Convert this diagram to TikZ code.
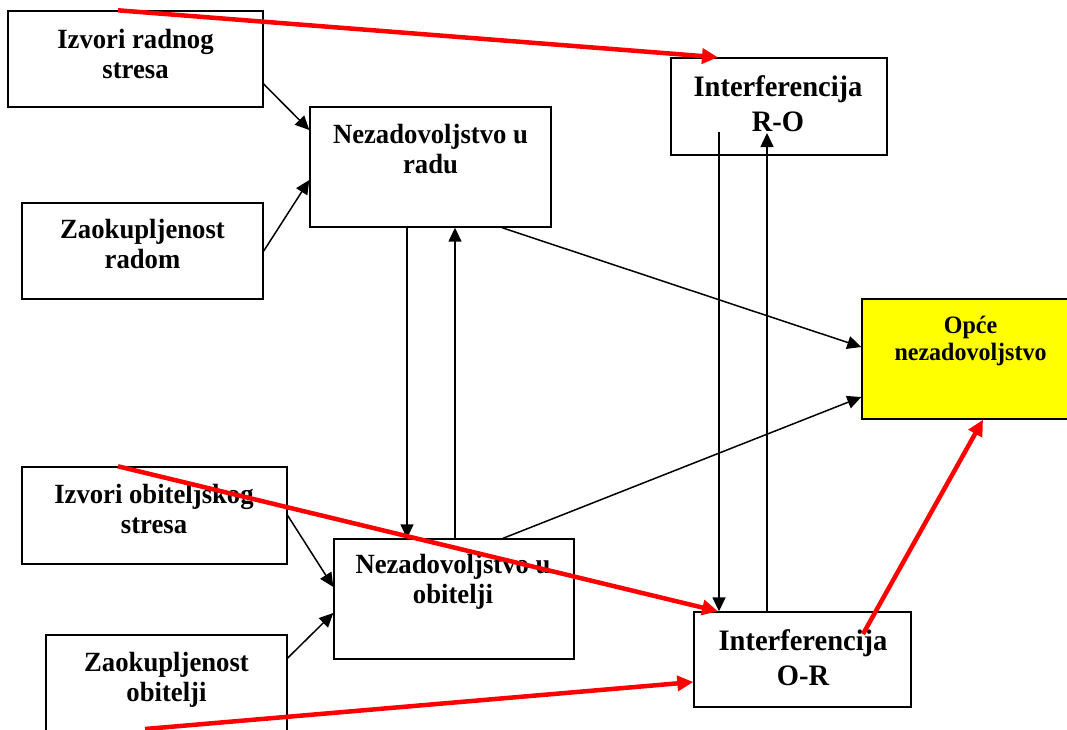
\documentclass[tikz,border=0pt]{standalone}
\usepackage{fontspec}
\setmainfont[FakeStretch=0.96]{Liberation Serif}
\usetikzlibrary{arrows.meta}
\definecolor{boxyellow}{RGB}{255,255,0}
\definecolor{arrred}{RGB}{255,0,0}
\begin{document}
\begin{tikzpicture}[x=1pt,y=-1pt,
  box/.style={draw=black, line width=1.4pt, fill=white, inner sep=0pt, rectangle},
  lbl/.style={inner sep=0pt, anchor=north, align=center, font=\fontsize{27.8}{30}\selectfont\bfseries},
  lblbig/.style={inner sep=0pt, anchor=north, align=center, font=\fontsize{29.7}{34.5}\selectfont\bfseries},
  lblsmall/.style={inner sep=0pt, anchor=north, align=center, font=\fontsize{25}{27}\selectfont\bfseries},
  blk/.style={draw=black, line width=1.5pt, -{Triangle[length=14pt,width=13pt]}},
  redarr/.style={draw=arrred, line width=4.5pt, -{Triangle[length=16pt,width=15pt]}}]
\path[use as bounding box] (0,0) rectangle (1067,729);
\clip (0,0) rectangle (1067,729);

% boxes
\node[box, minimum width=255pt, minimum height=96pt] (b1) at (135.5,59) {};
\node[box, minimum width=241pt, minimum height=96pt] (b2) at (142.5,251) {};
\node[box, minimum width=241pt, minimum height=120pt] (b3) at (430.5,167) {};
\node[box, minimum width=216pt, minimum height=97pt] (ro) at (779,106.5) {};
\node[box, fill=boxyellow, minimum width=217pt, minimum height=120pt] (op) at (970.5,359) {};
\node[box, minimum width=265pt, minimum height=97pt] (b6) at (154.5,515.5) {};
\node[box, minimum width=240pt, minimum height=120pt] (b7) at (454,599) {};
\node[box, minimum width=241pt, minimum height=96pt] (b8) at (166.5,683) {};
\node[box, minimum width=217pt, minimum height=95pt] (or) at (802.5,659.5) {};

% labels
\node[lbl] (t1) at (135.5,29.1) {Izvori radnog\\stresa};
\node[lbl] (t2) at (142.5,219.1) {Zaokupljenost\\radom};
\node[lbl] (t3) at (430.5,123.7) {Nezadovoljstvo u\\radu};
\node[lblbig] (tro) at (778,75.5) {Interferencija\\R-O};
\node[lblsmall] (top) at (970.5,315.5) {Opće\\nezadovoljstvo};
\node[lbl] (t6) at (154,484.1) {Izvori obiteljskog\\stresa};
\node[lbl] (t7) at (453,553.7) {Nezadovoljstvo u\\obitelji};
\node[lbl] (t8) at (166.5,652.1) {Zaokupljenost\\obitelji};
\node[lblbig] (tor) at (803,629.5) {Interferencija\\O-R};

% black connectors
\draw[blk] ([yshift=-25pt]b1.east) -- ([yshift=37pt]b3.west);
\draw[blk] (b2.east) -- ([yshift=-13pt]b3.west);
\draw[blk] ([xshift=-23.5pt]b3.south) -- ([xshift=-47pt]b7.north);
\draw[blk] ([xshift=1pt]b7.north) -- ([xshift=24.5pt]b3.south);
\draw[blk] ([xshift=71.5pt]b3.south) -- ([yshift=12pt]op.west);
\draw[blk] ([xshift=49pt]b7.north) -- ([yshift=-38pt]op.west);
\draw[blk] (b6.east) -- ([yshift=12pt]b7.west);
\draw[blk] ([yshift=25pt]b8.east) -- ([yshift=-14pt]b7.west);
\draw[blk] ([xshift=-60pt,yshift=-25.5pt]ro.center) -- ([xshift=-83.5pt]or.north);
\draw[blk] ([xshift=-35.5pt]or.north) -- ([xshift=-12pt,yshift=-26.5pt]ro.center);

% red connectors
\coordinate (r3start) at (145,729);
\draw[redarr] ([xshift=-17.5pt]b1.north) -- ([xshift=-61pt]ro.north);
\draw[redarr] ([xshift=-36.5pt]b6.north) -- ([xshift=-84.5pt]or.north);
\draw[redarr] (r3start) -- ([yshift=-22.5pt]or.west);
\draw[redarr] ([xshift=60.5pt,yshift=25.5pt]or.center) -- ([xshift=12.5pt]op.south);
\end{tikzpicture}
\end{document}
